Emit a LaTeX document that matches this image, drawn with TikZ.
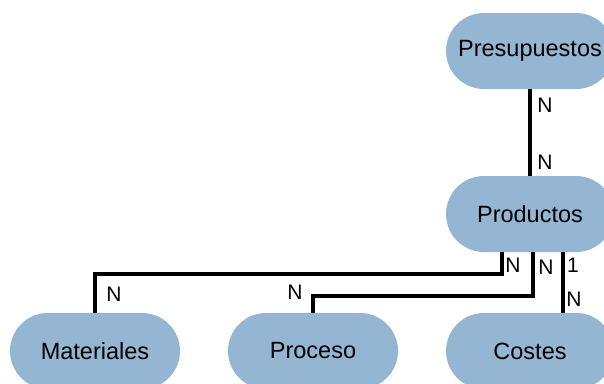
\documentclass[tikz,border=0pt]{standalone}
\usepackage{fontspec}
\setmainfont{Liberation Sans}
\tikzset{link/.style={line width=4pt}}
\definecolor{myblue}{RGB}{148,182,211}
\tikzset{entity/.style={fill=myblue, minimum width=168pt, minimum height=76pt, rounded corners=38pt, inner sep=0pt, font=\fontsize{23.5}{28}\selectfont}}
\tikzset{card/.style={inner sep=0pt, font=\fontsize{21}{25}\selectfont}}

\begin{document}
\begin{tikzpicture}[x=1pt, y=-1pt]
\path[use as bounding box, clip] (0,0) rectangle (604,383);
\node[entity] (pres) at (530,51) {Presupuestos};
\node[entity] (prod) at (530,214) {Productos};
\node[entity] (cost) at (530,351) {Costes};
\node[entity, minimum width=170pt] (mat) at (95,351) {Materiales};
\node[entity, minimum width=170pt] (proc) at (313,351) {Proceso};
\draw[link] (pres) -- (prod);
\draw[link] ([xshift=-28pt]prod.south) -- ++(0,22) -| (mat.north);
\draw[link] ([xshift=3pt]prod.south) -- ++(0,44) -| (proc.north);
\draw[link] ([xshift=33pt]prod.south) -- ([xshift=33pt]cost.north);
% cardinalities
\node[card] (n1) at (545,105) {N};
\node[card] (n2) at (545,162) {N};
\node[card] (n3) at (513,265) {N};
\node[card] (n4) at (114,294) {N};
\node[card] (n5) at (546,267) {N};
\node[card] (n6) at (295,292) {N};
\node[card] (c1) at (573,265) {1};
\node[card] (n7) at (574,299) {N};
\end{tikzpicture}
\end{document}
